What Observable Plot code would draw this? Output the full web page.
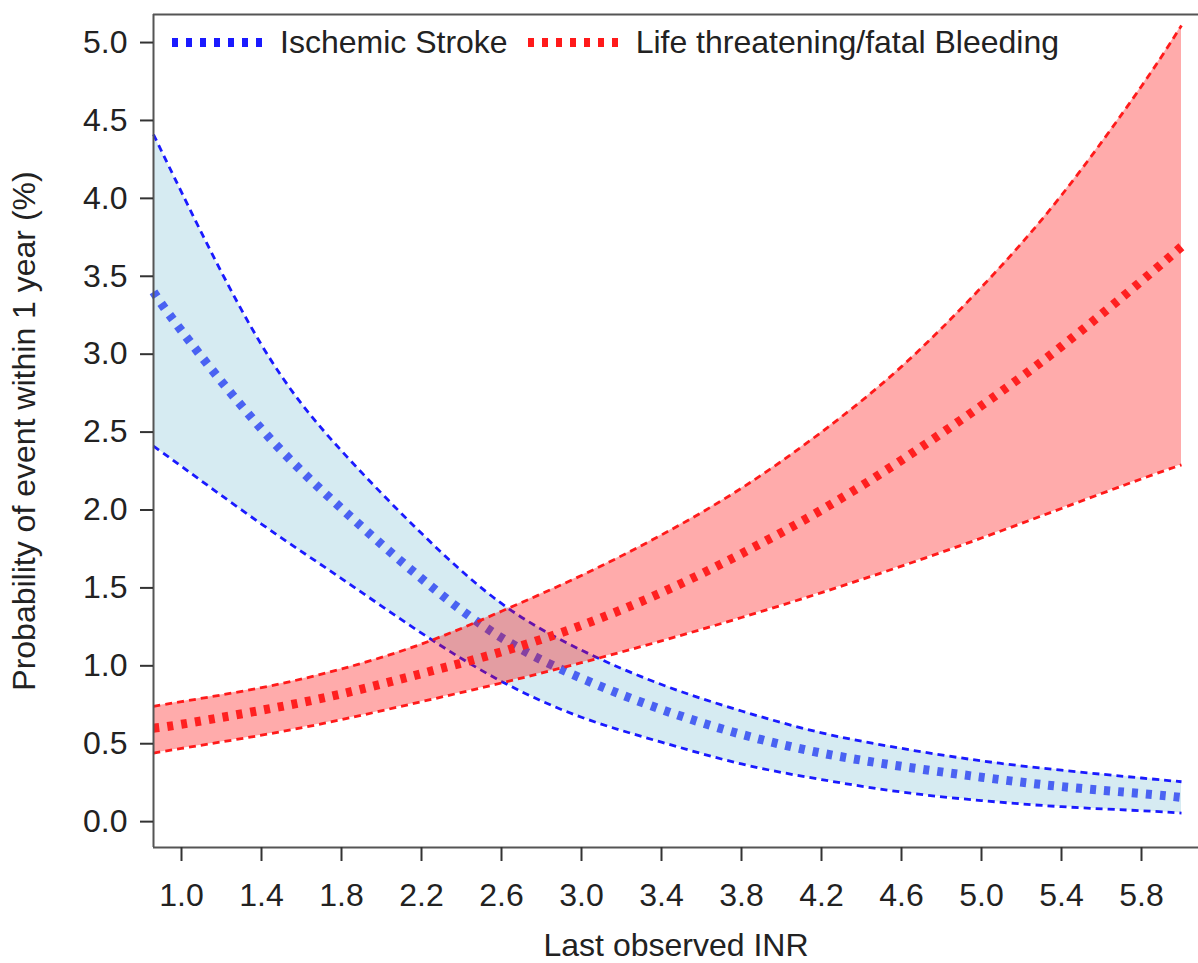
<!DOCTYPE html>
<html>
<head>
<meta charset="utf-8">
<script src="https://cdn.jsdelivr.net/npm/d3@7"></script>
<script src="https://cdn.jsdelivr.net/npm/@observablehq/plot@0.6"></script>
<style>
  body { margin: 0; background: #fff; }
  #wrap { position: relative; width: 1198px; height: 963px; overflow: hidden; font-family: "Liberation Sans", Arial, sans-serif; }
  #legend { position: absolute; left: 172px; top: 27px; display: flex; align-items: flex-start; font-size: 32px; line-height: 31px; color: #222; }
  #legend .item { display: flex; align-items: flex-start; }
  #legend svg { display: block; margin-right: 15px; }
  #legend .item + .item { margin-left: 20px; }
</style>
</head>
<body>
<div id="wrap">
  <div id="chart"></div>
  <div id="legend"></div>
</div>
<script>
// INR grid and curves (probability in %)
const inr = [0.86, 1.0, 1.4, 1.8, 2.2, 2.6, 3.0, 3.4, 3.8, 4.2, 4.6, 5.0, 5.4, 5.8, 6.0];

const strokeMid  = [3.40, 3.15, 2.52, 2.01, 1.56, 1.18, 0.92, 0.72, 0.56, 0.44, 0.355, 0.285, 0.225, 0.18, 0.155];
const strokeLow  = [2.41, 2.28, 1.91, 1.56, 1.21, 0.90, 0.67, 0.51, 0.37, 0.27, 0.19, 0.135, 0.096, 0.07, 0.055];
const strokeHigh = [4.41, 4.04, 3.06, 2.38, 1.85, 1.40, 1.10, 0.88, 0.71, 0.57, 0.47, 0.39, 0.33, 0.28, 0.256];

const bleedMid  = [0.60, 0.625, 0.715, 0.82, 0.95, 1.09, 1.26, 1.47, 1.72, 2.00, 2.32, 2.67, 3.05, 3.47, 3.69];
const bleedLow  = [0.44, 0.47, 0.555, 0.655, 0.77, 0.89, 1.02, 1.16, 1.31, 1.47, 1.64, 1.82, 2.01, 2.20, 2.29];
const bleedHigh = [0.74, 0.77, 0.86, 0.98, 1.14, 1.35, 1.58, 1.84, 2.14, 2.50, 2.92, 3.43, 4.02, 4.72, 5.11];

const xTicks = [1.0, 1.4, 1.8, 2.2, 2.6, 3.0, 3.4, 3.8, 4.2, 4.6, 5.0, 5.4, 5.8];
const yTicks = [0, 0.5, 1, 1.5, 2, 2.5, 3, 3.5, 4, 4.5, 5];
const xDomain = [0.86, 6.085];
const yDomain = [-0.166, 5.18];

const seriesNames = ["Ischemic Stroke", "Life threatening/fatal Bleeding"];
const seriesColors = ["#1a1aff", "#ff1a1a"];

const strokeRows = inr.map((x, i) => ({ x, lo: strokeLow[i], mid: strokeMid[i], hi: strokeHigh[i] }));
const bleedRows = inr.map((x, i) => ({ x, lo: bleedLow[i], mid: bleedMid[i], hi: bleedHigh[i] }));

const curve = "natural";
const bound = (rows, key, color) => Plot.line(rows, {
  x: "x", y: key, curve, stroke: color, strokeWidth: 2.8, strokeDasharray: "7 5", strokeLinecap: "butt"
});
const centre = (rows, color) => Plot.line(rows, {
  x: "x", y: "mid", curve, stroke: color, strokeWidth: 9, strokeDasharray: "6 8", strokeLinecap: "butt"
});

const plot = Plot.plot({
  width: 1198,
  height: 963,
  marginLeft: 153,
  marginRight: 0,
  marginTop: 14,
  marginBottom: 116,
  style: { fontFamily: "'Liberation Sans', Arial, sans-serif", fontSize: "32px", color: "#222", background: "#fff" },
  x: { domain: xDomain },
  y: { domain: yDomain },
  marks: [
    // ischemic stroke band
    Plot.areaY(strokeRows, { x: "x", y1: "lo", y2: "hi", curve, fill: "lightblue", fillOpacity: 0.5 }),
    bound(strokeRows, "lo", seriesColors[0]),
    bound(strokeRows, "hi", seriesColors[0]),
    centre(strokeRows, "#4a62f2"),
    // bleeding band
    Plot.areaY(bleedRows, { x: "x", y1: "lo", y2: "hi", curve, fill: "#ff0000", fillOpacity: 0.33 }),
    bound(bleedRows, "lo", seriesColors[1]),
    bound(bleedRows, "hi", seriesColors[1]),
    centre(bleedRows, "#ff2020"),
    // open frame: left, top, bottom
    Plot.ruleX([xDomain[0]], { stroke: "#555", strokeWidth: 2 }),
    Plot.ruleY([yDomain[0], yDomain[1]], { stroke: "#555", strokeWidth: 2 }),
    Plot.axisY({
      ticks: yTicks, tickFormat: d3.format(".1f"), tickSize: 13, tickPadding: 13,
      stroke: "#333", strokeWidth: 2,
      label: "Probability of event within 1 year (%)", labelAnchor: "center", labelOffset: 141, labelArrow: false
    }),
    Plot.axisX({
      ticks: xTicks, tickFormat: d3.format(".1f"), tickSize: 14, tickPadding: 22,
      stroke: "#333", strokeWidth: 2,
      label: "Last observed INR", labelAnchor: "center", labelOffset: 108, labelArrow: false
    })
  ]
});
document.getElementById("chart").appendChild(plot);

// legend drawn inside the plot area, top-left
const legend = d3.select("#legend");
seriesNames.forEach((name, i) => {
  const item = legend.append("div").attr("class", "item");
  const sw = item.append("svg").attr("width", 93).attr("height", 31);
  sw.append("line")
    .attr("x1", 0).attr("x2", 93).attr("y1", 15.5).attr("y2", 15.5)
    .attr("stroke", seriesColors[i]).attr("stroke-width", 9)
    .attr("stroke-dasharray", "6 8");
  item.append("span").text(name);
});
</script>
</body>
</html>
